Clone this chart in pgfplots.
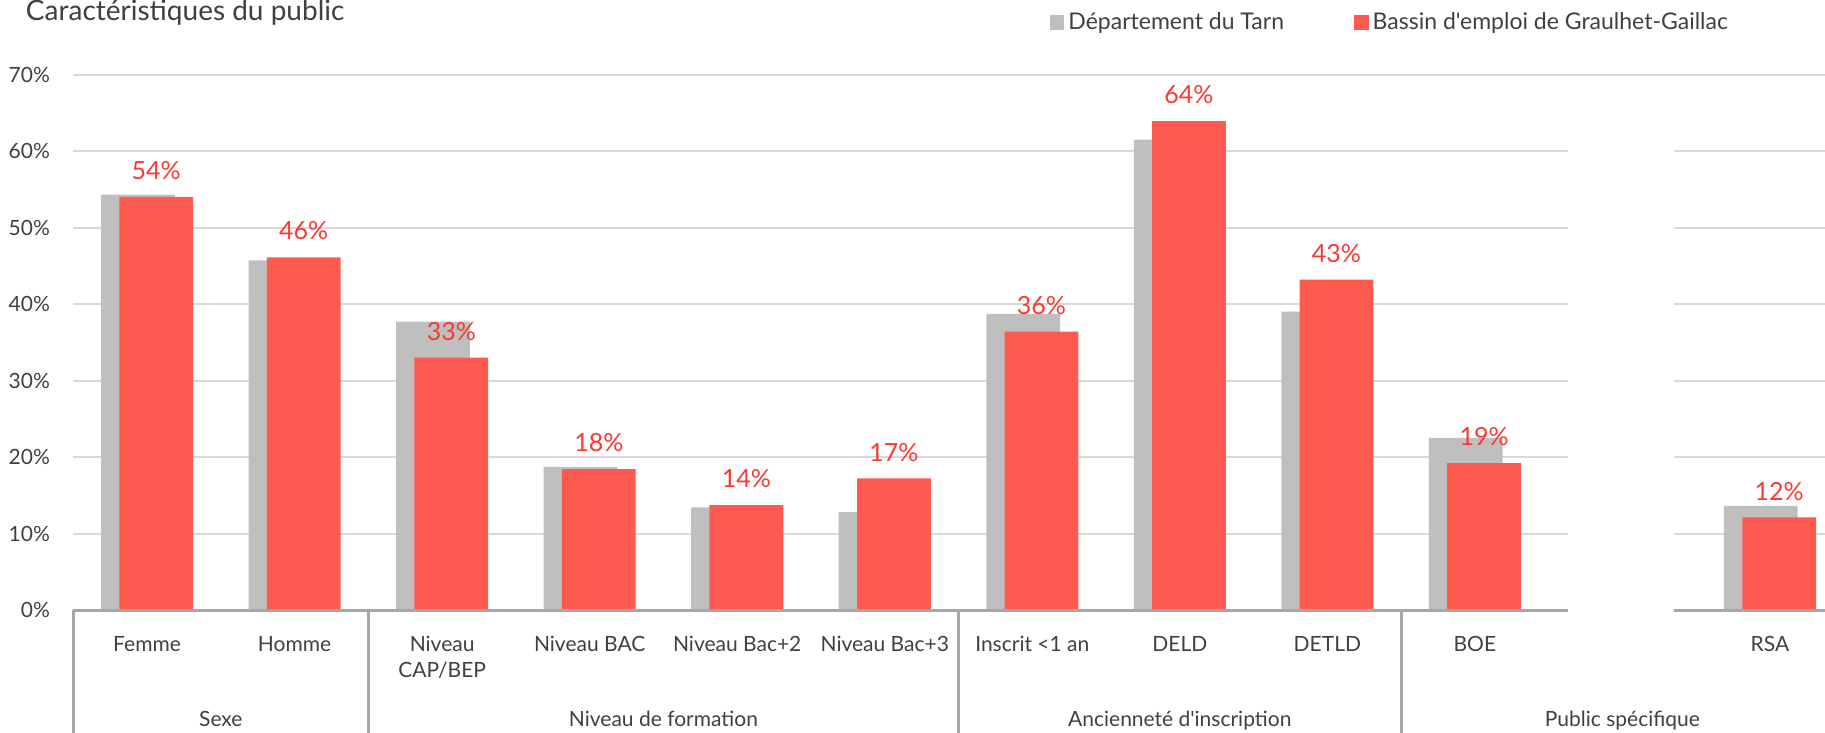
\documentclass[border=0pt]{standalone}
\usepackage{fontspec}
\setmainfont{Lato}[Ligatures=TeXOff]
\usepackage{pgfplots}
\pgfplotsset{compat=1.18}
\definecolor{grisbar}{HTML}{BFBFBF}
\definecolor{rougebar}{HTML}{FF5A50}
\definecolor{rougetxt}{HTML}{F93A32}
\definecolor{txt}{HTML}{404040}
\definecolor{grille}{HTML}{D9D9D9}
\definecolor{axe}{HTML}{ABA6A6}
\pgfplotsset{sqlegend/.style={legend image code/.code={\fill[##1] (0pt,-3.675pt) rectangle (7.35pt,3.675pt);}}}
\begin{document}
\begin{tikzpicture}
\begin{axis}[
  at={(0,0)}, anchor=south west,
  scale only axis, width=875.85pt, height=267.75pt,
  xmin=-0.5, xmax=11.373, ymin=0, ymax=70,
  axis line style={draw=none},
  ytick={0,10,...,70},
  yticklabels={0\%,10\%,20\%,30\%,40\%,50\%,60\%,70\%},
  ymajorgrids, grid style={grille, line width=1pt},
  major tick length=0pt,
  yticklabel style={font=\fontsize{10.5}{12}\selectfont, text=txt, xshift=-8.15pt},
  xtick={0,1,2,3,4,5,6,7,8,9,11},
  xticklabels={Femme,Homme,{Niveau\\CAP/BEP},Niveau BAC,Niveau Bac+2,Niveau Bac+3,Inscrit <1 an,DELD,DETLD,BOE,RSA},
  xticklabel style={font=\fontsize{10.5}{12.8}\selectfont, text=txt, align=center, yshift=-9.8pt},
  clip=false,
  legend columns=2,
  legend style={draw=none, fill=none, at={(axis description cs:0.5572,1.0967)}, anchor=west,
    inner sep=0pt, font=\fontsize{11.5}{13}\selectfont, text=txt,
    /tikz/every even column/.append style={column sep=33pt}},
]
\addplot[ybar, bar width=0.5, bar shift=-0.062, fill=grisbar, draw=none, sqlegend]
  coordinates {(0,54.3) (1,45.7) (2,37.7) (3,18.7) (4,13.4) (5,12.8) (6,38.7) (7,61.5) (8,39.0) (9,22.5) (11,13.6)};
\addlegendentry{Département du Tarn}
\addplot[ybar, bar width=0.5, bar shift=0.062, fill=rougebar, draw=none,
  point meta=explicit symbolic, nodes near coords,
  every node near coord/.append style={font=\fontsize{12.5}{14}\selectfont, text=rougetxt, anchor=base, yshift=8.7pt, xshift=4.57pt},
  sqlegend]
  coordinates {(0,54.0) [54\%] (1,46.1) [46\%] (2,33.0) [33\%] (3,18.4) [18\%] (4,13.7) [14\%] (5,17.2) [17\%] (6,36.4) [36\%] (7,63.9) [64\%] (8,43.2) [43\%] (9,19.2) [19\%] (11,12.1) [12\%]};
\addlegendentry{Bassin d'emploi de Graulhet-Gaillac}
% masque blanc entre BOE et RSA
\fill[white] (axis cs:9.63,-0.6) rectangle (axis cs:10.35,65);
% ligne de base
\draw[axe, line width=1.5pt] (axis cs:-0.5,0) -- (axis cs:9.63,0);
\draw[axe, line width=1.5pt] (axis cs:10.35,0) -- (axis cs:11.373,0);
% separateurs
\draw[axe, line width=1.5pt] (axis cs:-0.5,0) -- ([yshift=-70pt]axis cs:-0.5,0);
\draw[axe, line width=1.5pt] (axis cs:1.5,0) -- ([yshift=-70pt]axis cs:1.5,0);
\draw[axe, line width=1.5pt] (axis cs:5.5,0) -- ([yshift=-70pt]axis cs:5.5,0);
\draw[axe, line width=1.5pt] (axis cs:8.5,0) -- ([yshift=-70pt]axis cs:8.5,0);
% groupes
\node[anchor=base, font=\fontsize{10.5}{12}\selectfont, text=txt] at ([yshift=-58.3pt]axis cs:0.5,0) {Sexe};
\node[anchor=base, font=\fontsize{10.5}{12}\selectfont, text=txt] at ([yshift=-58.3pt]axis cs:3.5,0) {Niveau de formation};
\node[anchor=base, font=\fontsize{10.5}{12}\selectfont, text=txt] at ([yshift=-58.3pt]axis cs:7,0) {Ancienneté d'inscription};
\node[anchor=base, font=\fontsize{10.5}{12}\selectfont, text=txt] at ([yshift=-58.3pt]axis cs:10,0) {Public spécifique};
\end{axis}
\node[anchor=base west, inner sep=0pt, font=\fontsize{14}{16}\selectfont, text=txt] at (-23.85pt,294.65pt) {Caractéristiques du public};
\pgfresetboundingbox
\useasboundingbox (-36.65pt,-61.5pt) rectangle (875.85pt,305pt);
\end{tikzpicture}
\end{document}
